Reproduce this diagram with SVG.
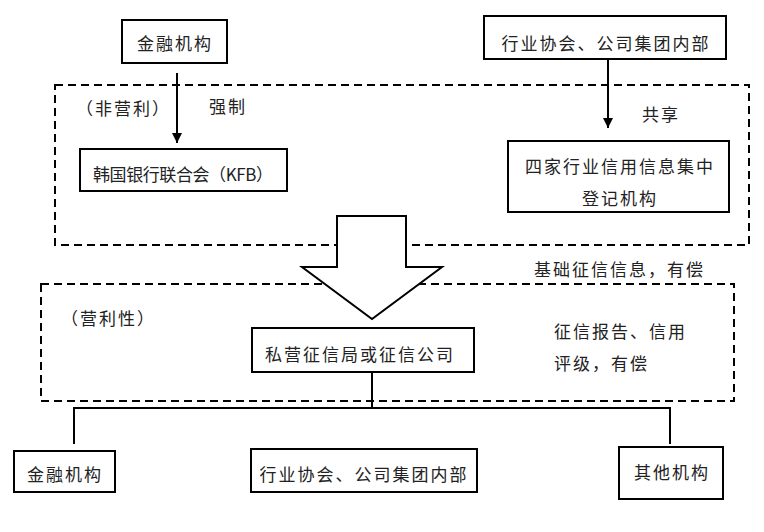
<svg xmlns="http://www.w3.org/2000/svg" width="764" height="532" viewBox="0 0 764 532">
<style>
.box{fill:#fff;stroke:#000;stroke-width:2}
.dash{fill:none;stroke:#000;stroke-width:2;stroke-dasharray:8 5}
.ln{fill:none;stroke:#000;stroke-width:2}
text{font-family:"Noto Sans CJK SC","Noto Sans",sans-serif;font-size:17px;fill:#222;letter-spacing:2px;dominant-baseline:central}
.c{text-anchor:middle}
</style>
<defs>
<marker id="ah" viewBox="0 0 10 10" refX="10" refY="5" markerWidth="10" markerHeight="10" markerUnits="userSpaceOnUse" orient="auto">
<path d="M0,0 L10,5 L0,10 z" fill="#000"/>
</marker>
</defs>
<rect class="dash" x="55" y="85" width="694" height="160"/>
<rect class="dash" x="41" y="284" width="693" height="117"/>
<g id="connectors">
<line class="ln" x1="177" y1="73" x2="177" y2="143" marker-end="url(#ah)"/>
<line class="ln" x1="608" y1="59" x2="608" y2="128" marker-end="url(#ah)"/>
<polyline class="ln" points="372,372 372,408"/>
<polyline class="ln" points="74,444 74,408 670,408 670,444"/>
<path id="bigarrow" d="M337,216 L406,216 L406,267 L442,267 L372,319 L302,267 L337,267 Z" fill="#fff" stroke="#000" stroke-width="2"/>
</g>
<g id="jrjg1"><rect class="box" x="122" y="20" width="105" height="43"/><text class="c" x="175" y="42">金融机构</text></g>
<g id="hyxh1"><rect class="box" x="484" y="16" width="242" height="43"/><text class="c" x="606" y="42">行业协会、公司集团内部</text></g>
<g id="kfb"><rect class="box" x="80" y="149" width="207" height="42"/><text class="c" x="184" y="173" textLength="182">韩国银行联合会（KFB）</text></g>
<g id="sijia"><rect class="box" x="508" y="141" width="221" height="71"/><text class="c" x="620" y="165">四家行业信用信息集中</text><text class="c" x="620" y="197">登记机构</text></g>
<g id="siying"><rect class="box" x="252" y="328" width="222" height="44"/><text class="c" x="360" y="353">私营征信局或征信公司</text></g>
<g id="jrjg2"><rect class="box" x="14" y="451" width="101" height="41"/><text class="c" x="65" y="473">金融机构</text></g>
<g id="hyxh2"><rect class="box" x="251" y="449" width="226" height="43"/><text class="c" x="364" y="473" letter-spacing="0">行业协会、公司集团内部</text></g>
<g id="qita"><rect class="box" x="619" y="447" width="104" height="52"/><text class="c" x="672" y="471">其他机构</text></g>
<g id="labels">
<text x="76" y="107">（非营利）</text>
<text x="209" y="105">强制</text>
<text x="642" y="113">共享</text>
<text x="534" y="268" letter-spacing="0">基础征信信息，有偿</text>
<text x="61" y="317">（营利性）</text>
<text x="554" y="330">征信报告、信用</text>
<text x="554" y="362">评级，有偿</text>
</g>
</svg>
